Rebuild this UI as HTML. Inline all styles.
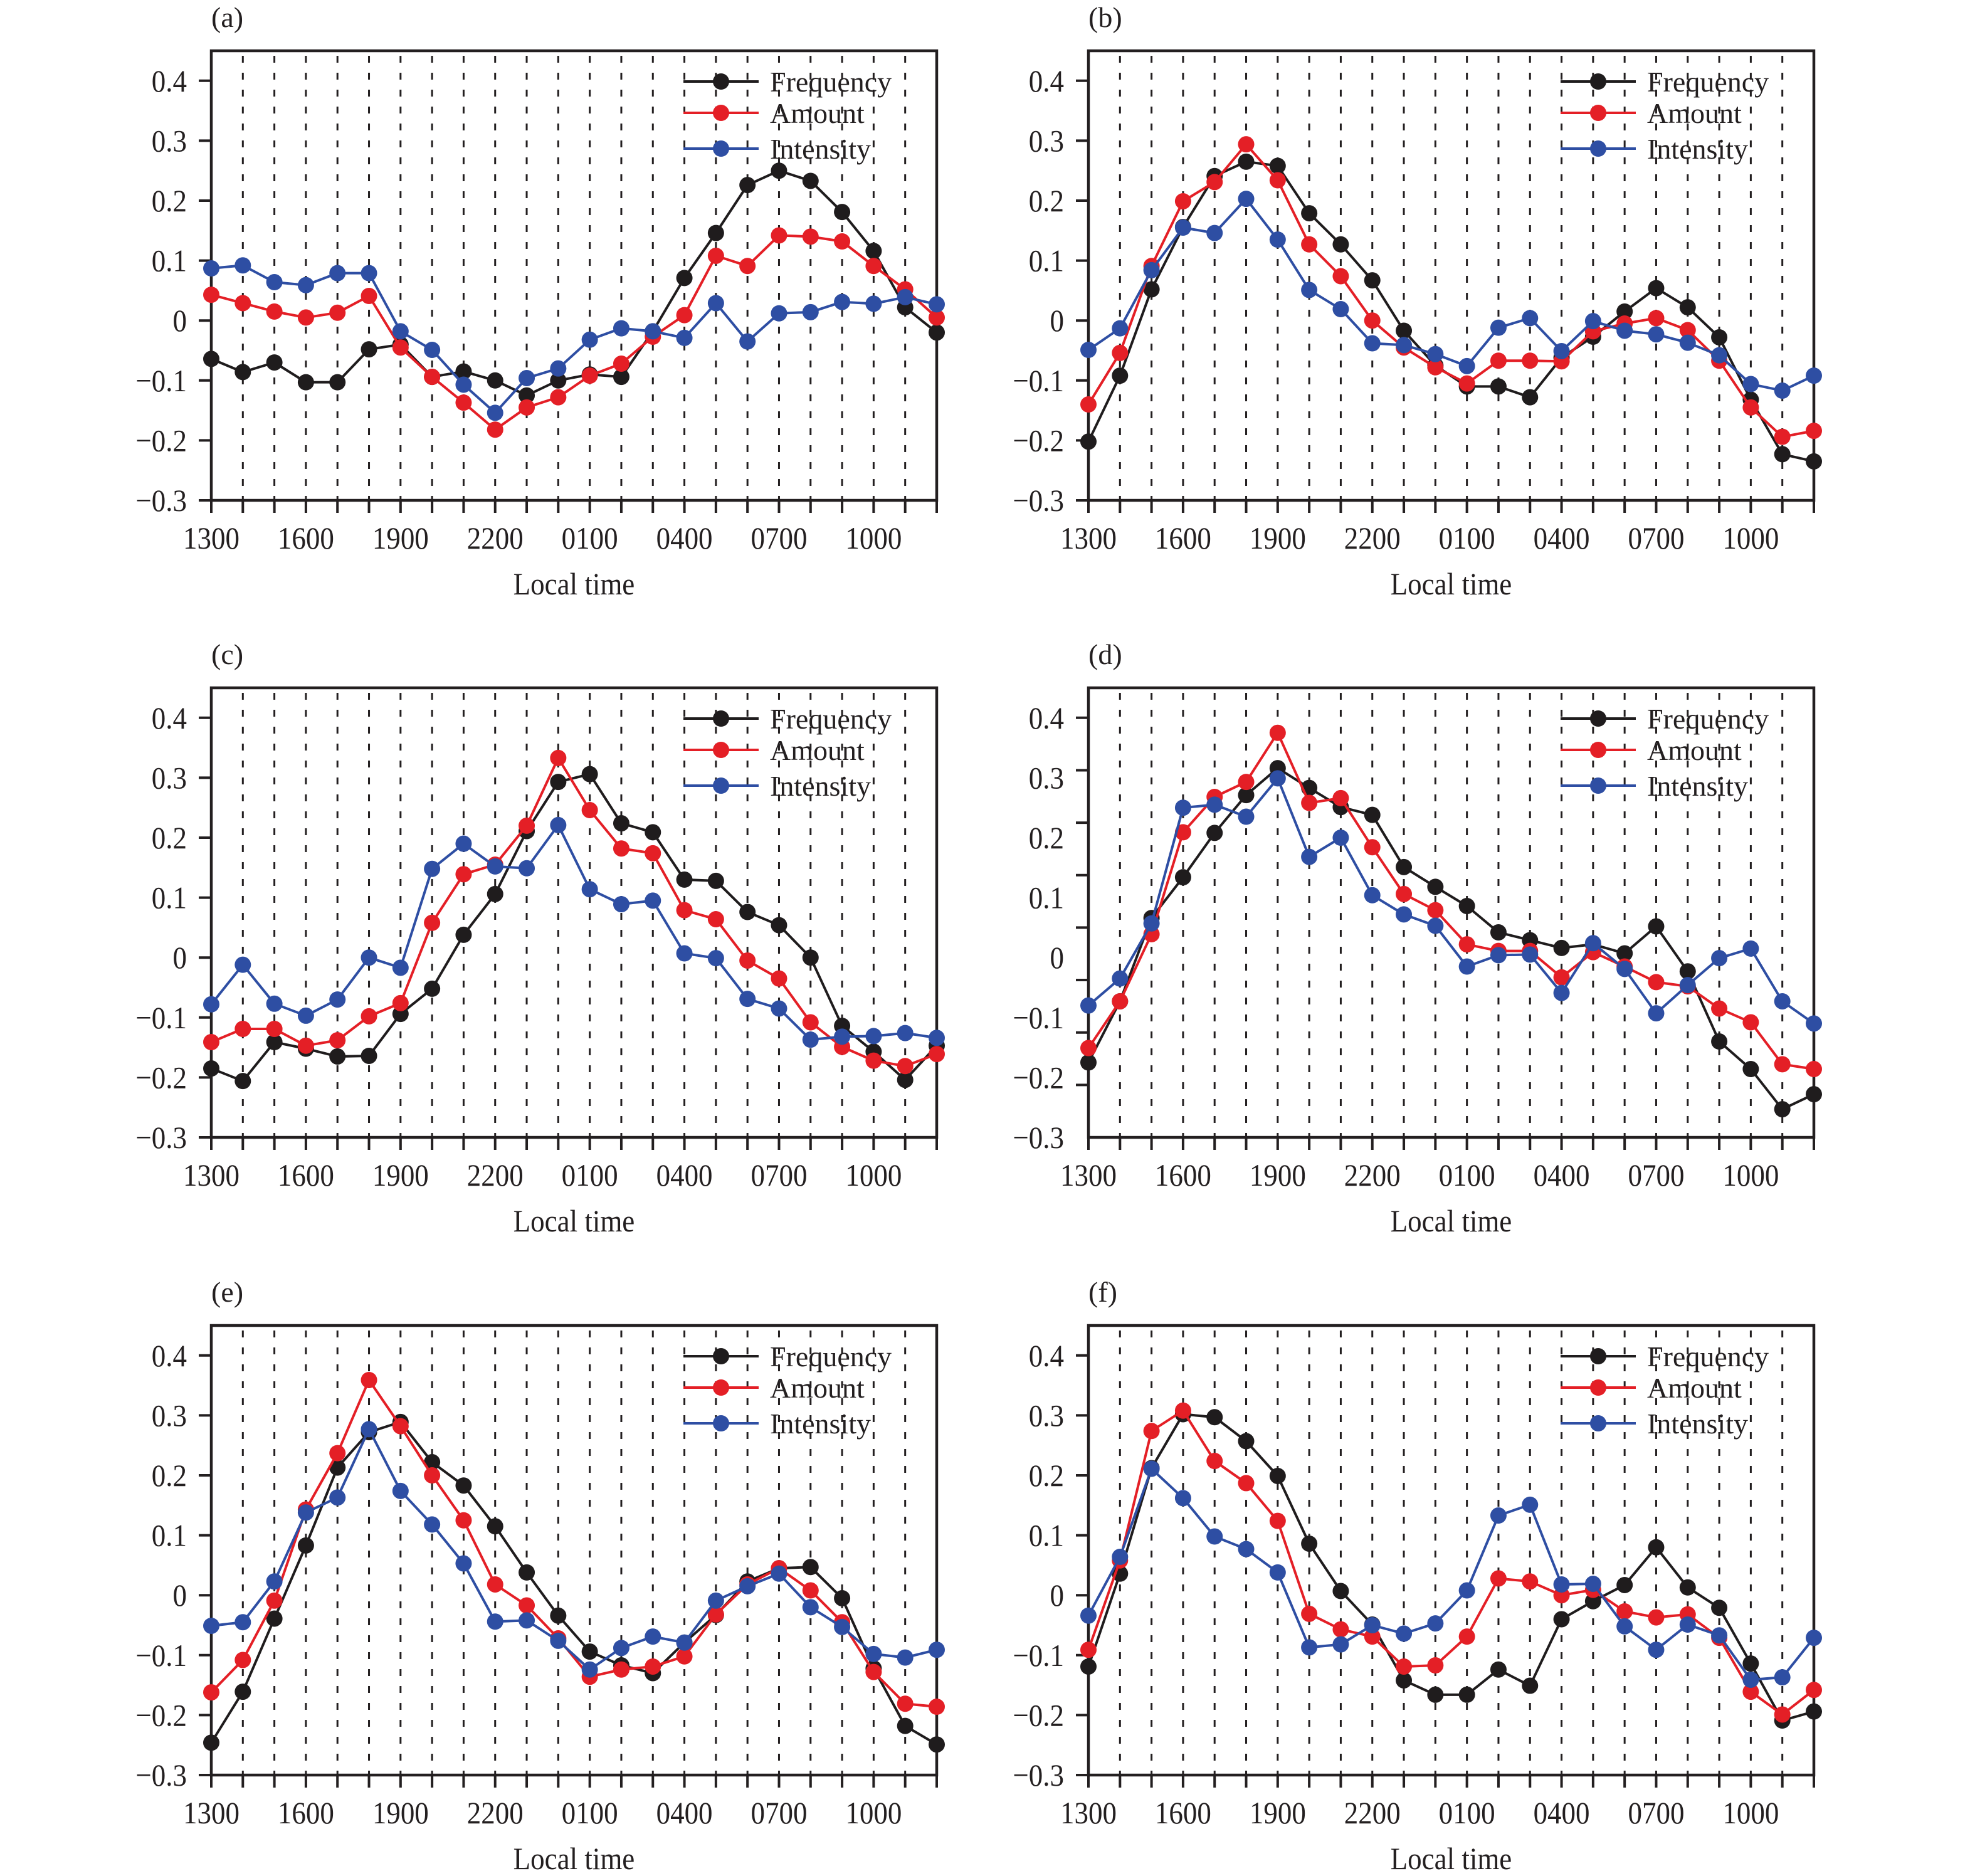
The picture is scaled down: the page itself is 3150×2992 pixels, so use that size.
<!DOCTYPE html>
<html><head><meta charset="utf-8"><style>
html,body{margin:0;padding:0;background:#fff}
svg{display:block}
text{font-family:"Liberation Serif",serif;fill:#231f20}
</style></head><body>
<svg id="fig" width="3150" height="2992" viewBox="0 0 3150 2992" xmlns="http://www.w3.org/2000/svg"></svg>
<script>
const hours = ["1300","1400","1500","1600","1700","1800","1900","2000","2100","2200","2300","0000","0100","0200","0300","0400","0500","0600","0700","0800","0900","1000","1100","1200"];
const xTickLabels = ["1300","1600","1900","2200","0100","0400","0700","1000"];
const yTickValues = [0.4,0.3,0.2,0.1,0,-0.1,-0.2,-0.3];
const yTickLabels = ["0.4","0.3","0.2","0.1","0","\u22120.1","\u22120.2","\u22120.3"];
const panelLabels = ["(a)","(b)","(c)","(d)","(e)","(f)"];
const seriesNames = ["Frequency","Amount","Intensity"];

const freqA = [-0.064,-0.086,-0.070,-0.103,-0.103,-0.048,-0.040,-0.094,-0.085,-0.100,-0.125,-0.100,-0.090,-0.094,-0.018,0.071,0.146,0.226,0.250,0.233,0.181,0.116,0.022,-0.020];
const amtA = [0.043,0.029,0.015,0.005,0.013,0.041,-0.045,-0.094,-0.137,-0.182,-0.145,-0.128,-0.092,-0.072,-0.027,0.009,0.108,0.091,0.142,0.140,0.132,0.091,0.052,0.005];
const intA = [0.087,0.092,0.064,0.059,0.079,0.079,-0.018,-0.049,-0.107,-0.154,-0.096,-0.080,-0.032,-0.013,-0.018,-0.029,0.029,-0.035,0.012,0.014,0.031,0.028,0.039,0.027];

const freqB = [-0.202,-0.092,0.052,0.156,0.241,0.265,0.258,0.179,0.127,0.067,-0.017,-0.075,-0.110,-0.110,-0.128,-0.062,-0.027,0.015,0.054,0.022,-0.028,-0.132,-0.223,-0.235];
const amtB = [-0.140,-0.054,0.091,0.199,0.231,0.294,0.234,0.127,0.074,0.000,-0.045,-0.078,-0.105,-0.067,-0.067,-0.068,-0.018,-0.005,0.004,-0.016,-0.067,-0.145,-0.194,-0.184];
const intB = [-0.049,-0.013,0.084,0.155,0.146,0.203,0.135,0.051,0.019,-0.038,-0.041,-0.056,-0.076,-0.012,0.004,-0.051,-0.001,-0.017,-0.023,-0.037,-0.058,-0.106,-0.117,-0.092];

const freqC = [-0.185,-0.206,-0.141,-0.152,-0.165,-0.164,-0.094,-0.052,0.038,0.106,0.211,0.293,0.306,0.224,0.209,0.130,0.128,0.076,0.054,0.000,-0.114,-0.157,-0.204,-0.147];
const amtC = [-0.141,-0.119,-0.119,-0.147,-0.138,-0.098,-0.076,0.058,0.139,0.155,0.220,0.333,0.246,0.182,0.174,0.079,0.064,-0.005,-0.035,-0.108,-0.149,-0.172,-0.181,-0.161];
const intC = [-0.078,-0.012,-0.077,-0.097,-0.070,0.000,-0.017,0.148,0.190,0.152,0.149,0.221,0.114,0.089,0.095,0.007,-0.001,-0.069,-0.085,-0.137,-0.132,-0.131,-0.126,-0.134];

const freqD = [-0.175,-0.073,0.066,0.134,0.208,0.271,0.316,0.283,0.251,0.238,0.151,0.118,0.086,0.042,0.029,0.016,0.022,0.007,0.052,-0.023,-0.140,-0.186,-0.253,-0.228];
const amtD = [-0.151,-0.073,0.039,0.209,0.268,0.293,0.375,0.258,0.266,0.184,0.106,0.079,0.022,0.011,0.011,-0.033,0.009,-0.015,-0.041,-0.048,-0.085,-0.108,-0.178,-0.186];
const intD = [-0.080,-0.035,0.057,0.250,0.255,0.235,0.299,0.168,0.200,0.104,0.072,0.053,-0.015,0.004,0.005,-0.059,0.024,-0.019,-0.093,-0.046,-0.001,0.015,-0.073,-0.110];

const freqE = [-0.246,-0.161,-0.039,0.083,0.213,0.272,0.289,0.222,0.183,0.115,0.038,-0.034,-0.094,-0.117,-0.130,-0.079,-0.033,0.023,0.045,0.047,-0.005,-0.122,-0.218,-0.249];
const amtE = [-0.162,-0.108,-0.009,0.143,0.237,0.359,0.282,0.200,0.125,0.018,-0.017,-0.072,-0.136,-0.124,-0.119,-0.102,-0.032,0.018,0.045,0.008,-0.045,-0.128,-0.181,-0.186];
const intE = [-0.051,-0.045,0.023,0.138,0.163,0.277,0.174,0.118,0.053,-0.044,-0.042,-0.076,-0.124,-0.088,-0.069,-0.079,-0.009,0.015,0.036,-0.020,-0.053,-0.098,-0.104,-0.091];

const freqF = [-0.119,0.036,0.212,0.302,0.297,0.257,0.199,0.086,0.007,-0.049,-0.142,-0.166,-0.166,-0.124,-0.151,-0.040,-0.010,0.017,0.080,0.013,-0.021,-0.114,-0.209,-0.194];
const amtF = [-0.091,0.058,0.274,0.308,0.224,0.187,0.124,-0.031,-0.057,-0.069,-0.119,-0.117,-0.069,0.028,0.023,0.000,0.009,-0.027,-0.037,-0.032,-0.071,-0.161,-0.199,-0.158];
const intF = [-0.034,0.064,0.211,0.162,0.098,0.077,0.038,-0.087,-0.082,-0.050,-0.064,-0.047,0.008,0.133,0.151,0.018,0.019,-0.052,-0.091,-0.049,-0.067,-0.141,-0.137,-0.071];

const panelsData = [[freqA,amtA,intA],[freqB,amtB,intB],[freqC,amtC,intC],[freqD,amtD,intD],[freqE,amtE,intE],[freqF,amtF,intF]];
const colors = ["#1f1c1d","#e41f26","#2e4ea3"];

const NS = "http://www.w3.org/2000/svg";
const svg = document.getElementById('fig');
function mk(tag, attrs, parent){
  const e = document.createElementNS(NS, tag);
  for (const k in attrs) e.setAttribute(k, attrs[k]);
  (parent||svg).appendChild(e);
  return e;
}

const colLeft = [337, 1736];
const rowTop = [81, 1097, 2114];
const W = 1157, H = 717;
const YMIN = -0.3, YMAX = 0.45;

panelsData.forEach((series, p) => {
  const L = colLeft[p % 2], T = rowTop[Math.floor(p / 2)];
  const R = L + W, B = T + H;
  const xs = i => L + i * W / (hours.length - 1);
  const ys = v => B - (v - YMIN) / (YMAX - YMIN) * H;
  const g = mk('g', {});
  
  

  const pl = mk('text', {x: L, y: T - 38, 'font-size': 46}, g);
  pl.textContent = panelLabels[p];
  
  

  for (let i = 1; i < hours.length - 1; i++) {
    const d = mk('line', {x1: xs(i), x2: xs(i), y1: T + 8, y2: B, stroke: '#231f20', 'stroke-width': 3, 'stroke-dasharray': '11 16'}, g);
    
    
  }
  for (let i = 0; i < hours.length; i++) {
    const t = mk('line', {x1: xs(i), x2: xs(i), y1: B, y2: B + 20, stroke: '#231f20', 'stroke-width': 4}, g);
    
    
  }
  xTickLabels.forEach(lbl => {
    const i = hours.indexOf(lbl);
    const t = mk('text', {x: xs(i), y: B + 77, 'font-size': 50, 'text-anchor': 'middle', transform: `translate(${xs(i)*0.1},0) scale(0.9,1)`}, g);
    t.textContent = lbl;
    
    
  });
  yTickValues.forEach((v, k) => {
    let ty = ys(v);
    if (p === 3) ty = ys(0.4) + k * (B - ys(0.4)) / 8;
    const t = mk('line', {x1: L - 20, x2: L, y1: ty, y2: ty, stroke: '#231f20', 'stroke-width': 4}, g);
    
    
    const lx = L - 39;
    const tl = mk('text', {x: lx, y: ys(v) + 17, 'font-size': 50, 'text-anchor': 'end', transform: `translate(${lx*0.1},0) scale(0.9,1)`}, g);
    tl.textContent = yTickLabels[k];
    
    
  });
  const fr = mk('rect', {x: L, y: T, width: W, height: H, fill: 'none', stroke: '#231f20', 'stroke-width': 4.5}, g);
  
  
  const at = mk('text', {x: L + W / 2, y: B + 150, 'font-size': 50, 'text-anchor': 'middle', transform: `translate(${(L+W/2)*0.1},0) scale(0.9,1)`}, g);
  at.textContent = 'Local time';
  
  

  series.forEach((vals, s) => {
    const sg = mk('g', {}, g);
    
    
    const pts = vals.map((v, i) => xs(i) + ',' + ys(v)).join(' ');
    const pl2 = mk('polyline', {points: pts, fill: 'none', stroke: colors[s], 'stroke-width': 4, 'stroke-linejoin': 'round'}, sg);
    
    
    vals.forEach((v, i) => {
      const c = mk('circle', {cx: xs(i), cy: ys(v), r: 13, fill: colors[s]}, sg);
      
      
    });
  });

  const lg = mk('g', {}, g);
  
  
  const rowsY = [49, 99, 156];
  seriesNames.forEach((nm, s) => {
    const ry = T + rowsY[s];
    const e = mk('g', {}, lg);
    
    
    mk('line', {x1: L + 753, x2: L + 873, y1: ry, y2: ry, stroke: colors[s], 'stroke-width': 4}, e);
    mk('circle', {cx: L + 813, cy: ry, r: 13, fill: colors[s]}, e);
    const t = mk('text', {x: L + 891, y: ry + 16, 'font-size': 46}, e);
    t.textContent = nm;
  });
});
</script>
</body></html>
